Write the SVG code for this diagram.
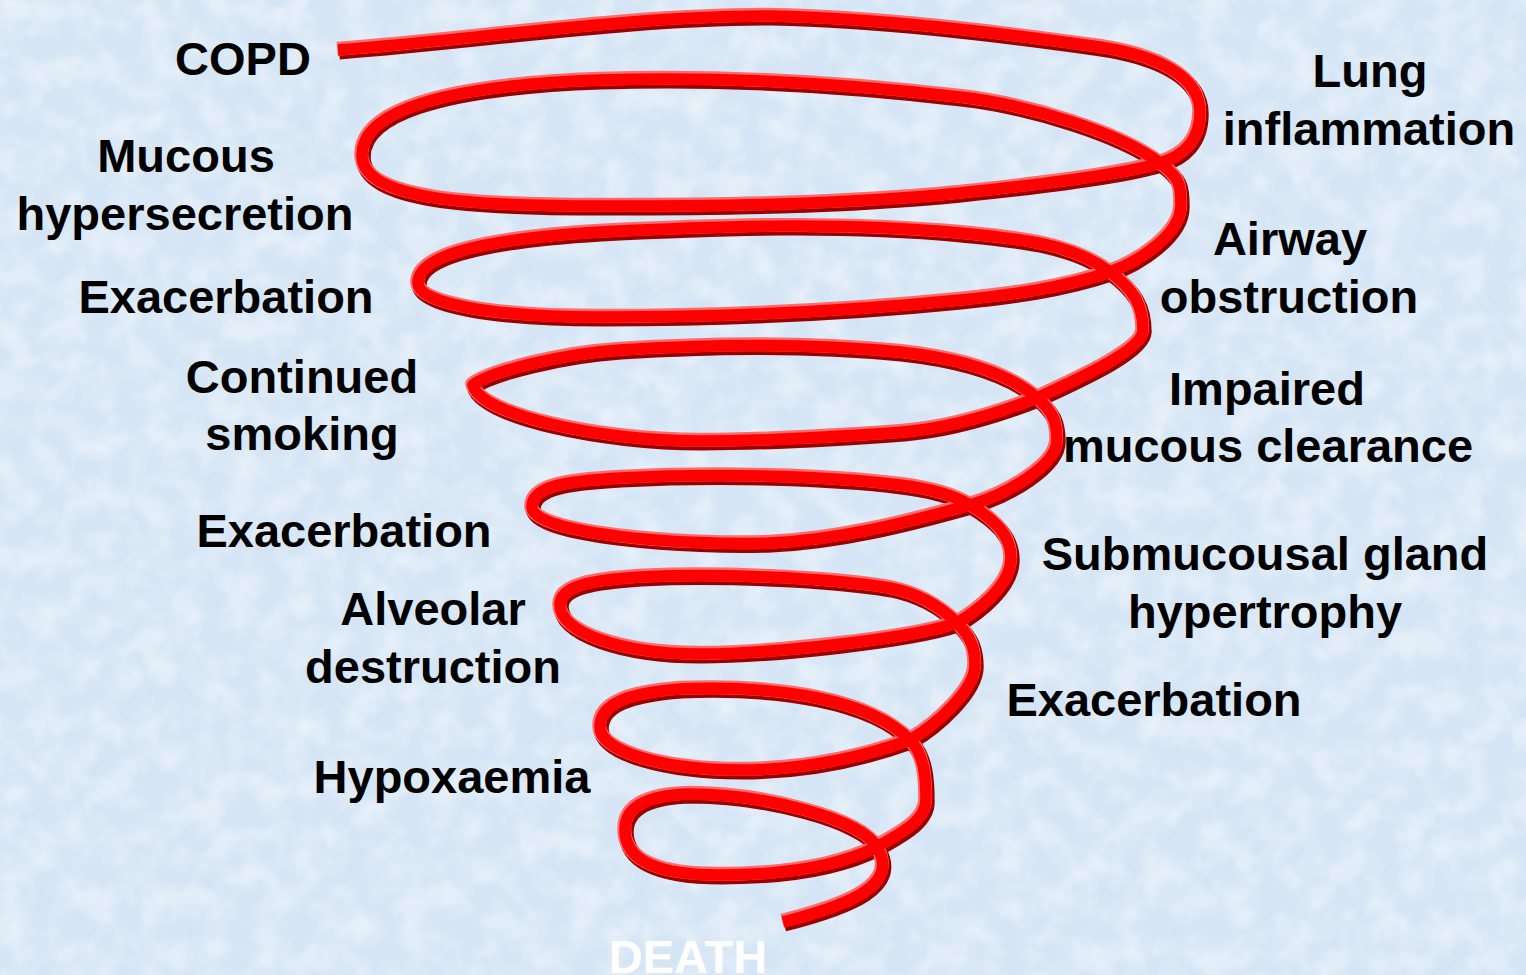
<svg xmlns="http://www.w3.org/2000/svg" xmlns:xlink="http://www.w3.org/1999/xlink" width="1526" height="975" viewBox="0 0 1526 975">
<style>
.lbl{font-family:"Liberation Sans",Arial,sans-serif;font-weight:bold;font-size:47px;fill:#000;text-anchor:middle}
.death{fill:#fff}
.sp{fill:none;stroke-linecap:butt;stroke-linejoin:round}
.sh{stroke:#9a0000;stroke-width:15}
.hl{stroke:#ff6a6a;stroke-width:14}
.core{stroke:#ff0000;stroke-width:11.5}
</style>
<defs>
<filter id="tex" x="0" y="0" width="100%" height="100%">
<feTurbulence type="fractalNoise" baseFrequency="0.035" numOctaves="3" seed="5"/>
<feColorMatrix type="matrix" values="0 0 0 0 1  0 0 0 0 1  0 0 0 0 1  0.9 0 0 0 -0.32"/>
</filter>
<path id="spiralPath" d="M338,50 C482,39 626,16 770,16 C880,18 1000,33 1100,47 C1159,56 1200,77 1200,112 C1200,140 1184,156 1160,163 C1122,175 1027,186 960,193 C840,205 720,206 600,206 C470,206 362,200 362,155 C362,115 430,86 600,80 C720,76 840,83 960,97 C1030,105 1120,133 1160,163 C1180,178 1181,185 1181,205 C1181,235 1138,262 1110,272 C1063,288 1010,295 960,300 C840,312 720,317 600,317 C500,317 418,305 418,283 C418,258 470,240 600,232 C720,226 840,222 960,233 C1010,238 1070,242 1110,272 C1134,290 1143,305 1143,330 C1143,350 1080,378 1037,398 C991,416 948,428 903,432 C835,437 765,441 700,441 C600,441 480,415 473,385 C490,372 560,354 620,350 C713,344 807,343 900,352 C946,357 1003,368 1037,398 C1052,411 1057,420 1057,440 C1057,465 1008,494 970,505 C906,523 837,540 770,543 C690,546 532,535 532,507 C532,485 570,481 620,478 C720,473 830,476 900,485 C925,488 950,493 970,505 C995,520 1011,535 1011,558 C1011,585 979,610 957,623 C910,639 770,654 700,654 C620,654 560,632 560,605 C560,585 595,580 640,577 C720,573 830,578 890,588 C920,594 940,606 957,623 C971,637 975,648 975,665 C975,690 936,725 910,740 C860,758 800,770 740,770 C665,770 600,752 600,727 C600,703 630,693 680,689 C780,685 870,700 910,740 C925,755 926,780 926,800 C926,822 897,835 877,847 C837,867 780,875 720,875 C660,875 625,862 625,830 C625,805 650,795 690,794 C760,794 860,818 877,847 C900,885 850,905 783,922"/>
</defs>
<g id="background">
<rect x="0" y="0" width="1526" height="975" fill="#d5e5f5"/>
<rect x="0" y="0" width="1526" height="975" filter="url(#tex)"/>
</g>
<g id="connectors">
<use xlink:href="#spiralPath" class="sp sh" transform="translate(1.2,2)"/>
<use xlink:href="#spiralPath" class="sp hl" transform="translate(-0.8,-1.2)"/>
<use xlink:href="#spiralPath" class="sp core"/>
</g>
<g id="copd"><text class="lbl" x="243" y="75">COPD</text></g>
<g id="mucous-hypersecretion"><text class="lbl" x="186" y="172">Mucous</text><text class="lbl" x="185" y="230">hypersecretion</text></g>
<g id="exacerbation-1"><text class="lbl" x="226" y="313">Exacerbation</text></g>
<g id="continued-smoking"><text class="lbl" x="302" y="393">Continued</text><text class="lbl" x="302" y="450">smoking</text></g>
<g id="exacerbation-2"><text class="lbl" x="344" y="547">Exacerbation</text></g>
<g id="alveolar-destruction"><text class="lbl" x="433" y="625">Alveolar</text><text class="lbl" x="433" y="683">destruction</text></g>
<g id="hypoxaemia"><text class="lbl" x="452" y="793">Hypoxaemia</text></g>
<g id="death"><text class="lbl death" x="688" y="973">DEATH</text></g>
<g id="lung-inflammation"><text class="lbl" x="1370" y="87">Lung</text><text class="lbl" x="1369" y="145">inflammation</text></g>
<g id="airway-obstruction"><text class="lbl" x="1290" y="255">Airway</text><text class="lbl" x="1289" y="313">obstruction</text></g>
<g id="impaired-mucous-clearance"><text class="lbl" x="1267" y="405">Impaired</text><text class="lbl" x="1268" y="462">mucous clearance</text></g>
<g id="submucousal-gland-hypertrophy"><text class="lbl" x="1265" y="570">Submucousal gland</text><text class="lbl" x="1265" y="628">hypertrophy</text></g>
<g id="exacerbation-3"><text class="lbl" x="1154" y="716">Exacerbation</text></g>
</svg>
